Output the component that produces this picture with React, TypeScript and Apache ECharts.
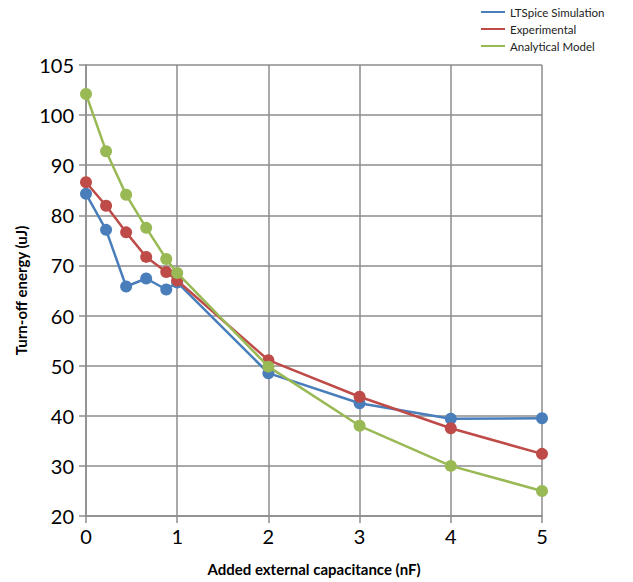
import React, { useEffect, useRef } from "react";
import * as echarts from "echarts";

const xValues = [0, 0.22, 0.44, 0.66, 0.88, 1, 2, 3, 4, 5];
const ltspice = [84.3, 77.1, 65.8, 67.4, 65.2, 66.6, 48.5, 42.5, 39.4, 39.5];
const experimental = [86.6, 81.9, 76.6, 71.7, 68.7, 67.0, 51.1, 43.8, 37.5, 32.4];
const analytical = [104.2, 92.8, 84.1, 77.5, 71.3, 68.5, 49.8, 38.0, 30.0, 25.0];
const seriesNames = ["LTSpice Simulation", "Experimental", "Analytical Model"];
const colors = ["#4a7ebb", "#be4b48", "#98b954"];

const FONT = "Lato, 'Liberation Sans', sans-serif";

export default function App() {
  const ref = useRef<HTMLDivElement>(null);
  useEffect(() => {
    if (!ref.current) return;
    const chart = echarts.init(ref.current, undefined, { renderer: "svg" });
    const mk = (vals: number[]) => xValues.map((x, i) => [x, vals[i]]);
    const all = [ltspice, experimental, analytical];
    chart.setOption({
      animation: false,
      backgroundColor: "#ffffff",
      textStyle: { fontFamily: FONT },
      grid: { left: 86, right: 91, top: 65, bottom: 66 },
      legend: {
        orient: "vertical",
        left: 476,
        top: 1,
        itemWidth: 24,
        itemHeight: 10,
        itemGap: 5,
        textStyle: { fontSize: 11.5, color: "#222", fontFamily: FONT },
        data: seriesNames.map((n, i) => ({ name: n, icon: "path://M0,0L24,0L24,2L0,2Z", itemStyle: { color: colors[i] } })),
      },
      xAxis: {
        type: "value",
        min: 0,
        max: 5,
        interval: 1,
        name: "Added external capacitance (nF)",
        nameLocation: "middle",
        nameGap: 45,
        nameTextStyle: { fontSize: 15, fontWeight: "bold", color: "#000", fontFamily: FONT },
        axisLine: { show: true, onZero: false, lineStyle: { color: "#8c8c8c", width: 1.5 } },
        axisTick: { show: true, length: 7, lineStyle: { color: "#8c8c8c", width: 1.5 } },
        axisLabel: { fontSize: 20, color: "#000", margin: 10, fontFamily: FONT },
        splitLine: { show: true, lineStyle: { color: "#8c8c8c", width: 1.5 } },
      },
      yAxis: {
        type: "value",
        min: 20,
        max: 110,
        interval: 10,
        name: "Turn-off energy (uJ)",
        nameLocation: "middle",
        nameGap: 55,
        nameTextStyle: { fontSize: 15, fontWeight: "bold", color: "#000", fontFamily: FONT },
        axisLine: { show: true, onZero: false, lineStyle: { color: "#8c8c8c", width: 1.5 } },
        axisTick: { show: true, length: 7, lineStyle: { color: "#8c8c8c", width: 1.5 } },
        axisLabel: {
          fontSize: 20,
          color: "#000",
          margin: 12,
          fontFamily: FONT,
          formatter: (v: number) => (v === 110 ? "105" : String(v)),
        },
        splitLine: { show: true, lineStyle: { color: "#8c8c8c", width: 1.5 } },
      },
      series: all.map((vals, i) => ({
        name: seriesNames[i],
        type: "line",
        data: mk(vals),
        symbol: "circle",
        symbolSize: 12,
        showSymbol: true,
        lineStyle: { color: colors[i], width: 2.5 },
        itemStyle: { color: colors[i] },
        z: 2 + i,
      })),
    });
    return () => chart.dispose();
  }, []);
  return <div ref={ref} style={{ width: 633, height: 582, position: "absolute", left: 0, top: 0 }} />;
}
